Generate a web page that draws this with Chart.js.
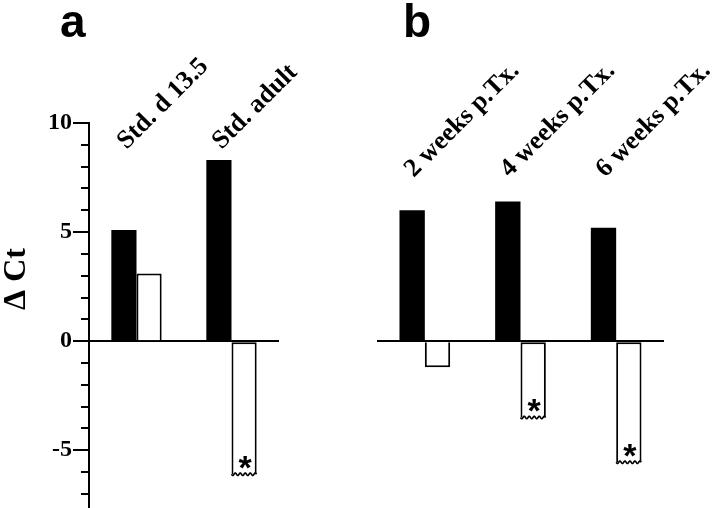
<!DOCTYPE html>
<html>
<head>
<meta charset="utf-8">
<script src="https://cdn.jsdelivr.net/npm/chart.js@4/dist/chart.umd.min.js"></script>
<style>
  html, body { margin: 0; padding: 0; background: #fff; }
  #wrap { position: relative; width: 720px; height: 508px; overflow: hidden; }
  canvas { position: absolute; top: 0; }
  #chartA { left: 0; }
  #chartB { left: 360px; }
</style>
</head>
<body>
<div id="wrap">
  <canvas id="chartA" width="360" height="508"></canvas>
  <canvas id="chartB" width="360" height="508"></canvas>
</div>
<script>
// panel a
const labelsA = ['Std. d 13.5', 'Std. adult'];
const filledA = [5.1, 8.3];
const openA = [3.1, -6.1];
const starA = [false, true];

// panel b
const labelsB = ['2 weeks p.Tx.', '4 weeks p.Tx.', '6 weeks p.Tx.'];
const filledB = [6.0, 6.4, 5.2];
const openB = [-1.2, -3.5, -5.55];
const starB = [false, true, true];

// y axis
const yMin = -7.6;
const yMax = 10;
const yLabelled = [10, 5, 0, -5];
const yTitle = '\u0394 Ct';

const serif = '"Liberation Serif", "Times New Roman", serif';

function wavyLine(ctx, x1, x2, y) {
  const period = 5;
  ctx.beginPath();
  ctx.moveTo(x1, y);
  for (let x = x1; x <= x2; x += 0.5) {
    ctx.lineTo(x, y + 1.3 * Math.sin(((x - x1) / period) * Math.PI * 2));
  }
  ctx.stroke();
}

const decorations = {
  id: 'decorations',
  afterDatasetsDraw(chart, args, opts) {
    const { ctx } = chart;
    const yScale = chart.scales.y;
    const openMeta = chart.getDatasetMeta(1);
    const xScale = chart.scales.x;

    ctx.save();
    ctx.fillStyle = '#000';
    ctx.strokeStyle = '#000';

    // stars + torn edge on significant bars
    openMeta.data.forEach((bar, i) => {
      if (!opts.stars[i]) return;
      const half = bar.width / 2;
      ctx.lineWidth = 1.6;
      wavyLine(ctx, bar.x - half, bar.x + half, bar.y);
      ctx.font = 'bold 34px "Liberation Sans", Arial, sans-serif';
      ctx.textAlign = 'center';
      ctx.textBaseline = 'alphabetic';
      const m = ctx.measureText('*');
      const centre = bar.y - 12;
      const base = centre - (m.actualBoundingBoxDescent - m.actualBoundingBoxAscent) / 2;
      ctx.fillText('*', bar.x + 1, base);
    });

    // rotated category labels
    ctx.font = `bold 26px ${serif}`;
    ctx.textAlign = 'left';
    ctx.textBaseline = 'alphabetic';
    chart.data.labels.forEach((label, i) => {
      const x = xScale.getPixelForValue(i) + opts.labelShift;
      const y = yScale.getPixelForValue(opts.labelLevel);
      ctx.save();
      ctx.translate(x, y);
      ctx.rotate(-Math.PI / 4);
      ctx.fillText(label, 0, 0);
      ctx.restore();
    });

    // panel letter
    ctx.font = 'bold 46px "Liberation Sans", Arial, sans-serif';
    ctx.fillText(opts.letter, opts.letterX, 37);

    // long ticks for labelled values + axis title
    if (opts.axis) {
      ctx.lineWidth = 2;
      yLabelled.forEach((v) => {
        const py = Math.round(yScale.getPixelForValue(v));
        ctx.beginPath();
        ctx.moveTo(yScale.right - 16, py);
        ctx.lineTo(yScale.right - 7, py);
        ctx.stroke();
      });
      ctx.save();
      ctx.translate(25, 279);
      ctx.rotate(-Math.PI / 2);
      ctx.font = `bold 32px ${serif}`;
      ctx.textAlign = 'center';
      ctx.fillText(yTitle, 0, 0);
      ctx.restore();
    }
    ctx.restore();
  },
};

function makeChart(id, labels, filled, open, stars, extra) {
  return new Chart(document.getElementById(id), {
    type: 'bar',
    data: {
      labels,
      datasets: [{
        data: filled,
        backgroundColor: '#000',
        borderWidth: 0,
        barPercentage: 1,
        categoryPercentage: 0.53,
      }, {
        data: open,
        backgroundColor: '#fff',
        borderColor: '#000',
        borderWidth: 2,
        borderSkipped: (c) => (stars[c.dataIndex] ? 'end' : 'start'),
        barPercentage: 1,
        categoryPercentage: 0.53,
      }],
    },
    options: {
      responsive: false,
      animation: false,
      events: [],
      layout: {
        padding: extra.padding,
      },
      plugins: {
        legend: { display: false },
        tooltip: { enabled: false },
        decorations: {
          stars,
          labelShift: extra.labelShift,
          labelLevel: extra.labelLevel,
          letter: extra.letter,
          letterX: extra.letterX,
          axis: extra.axis,
        },
      },
      scales: {
        x: {
          display: false,
        },
        y: {
          min: yMin,
          max: yMax,
          afterFit: (scale) => {
            scale.width = extra.axisWidth;
            scale.paddingTop = 0;
            scale.paddingBottom = 0;
          },
          border: {
            display: extra.axis,
            color: '#000',
            width: 2,
          },
          grid: {
            color: (c) => (c.tick && c.tick.value === 0 ? '#000' : 'rgba(0,0,0,0)'),
            lineWidth: 2,
            drawTicks: extra.axis,
            tickLength: 8,
            tickColor: '#000',
            tickWidth: 2,
          },
          ticks: {
            display: extra.axis,
            autoSkip: false,
            stepSize: 1,
            includeBounds: false,
            padding: 9,
            color: '#000',
            font: { family: serif, size: 24, weight: 'bold' },
            callback: (v) => (yLabelled.includes(v) ? String(v) : ''),
          },
        },
      },
    },
    plugins: [decorations],
  });
}

makeChart('chartA', labelsA, filledA, openA, starA, {
  padding: { top: 123, bottom: 1, left: 0, right: 81 },
  axisWidth: 89,
  axis: true,
  labelShift: -10,
  labelLevel: 8.76,
  letter: 'a',
  letterX: 60,
});

makeChart('chartB', labelsB, filledB, openB, starB, {
  padding: { top: 123, bottom: 1, left: 17, right: 56 },
  axisWidth: 0,
  axis: false,
  labelShift: -11,
  labelLevel: 7.48,
  letter: 'b',
  letterX: 43,
});
</script>
</body>
</html>
